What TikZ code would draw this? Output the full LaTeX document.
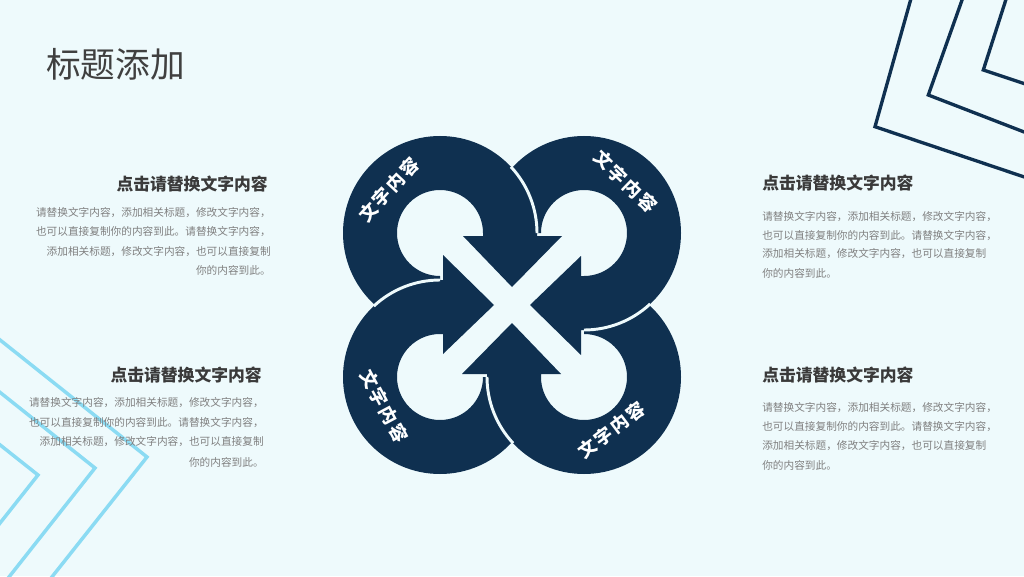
\documentclass[tikz,border=0pt]{standalone}
\usepackage{fontspec}
\setmainfont{Noto Sans CJK SC}
\definecolor{bg}{HTML}{EEFAFC}
\definecolor{navy}{HTML}{0F3050}
\definecolor{lblue}{HTML}{8BDBF3}
\definecolor{headc}{HTML}{3A3A3A}
\definecolor{bodyc}{HTML}{808080}
\definecolor{titlec}{HTML}{404040}
\newcommand\ringlabel{文\hspace{1.8pt}字\hspace{1.8pt}内\hspace{1.8pt}容}
\tikzset{
  bodytxt/.style={font=\fontsize{8}{10}\selectfont, text=bodyc, inner sep=0pt},
  headtxt/.style={font=\bfseries\fontsize{12.6}{14}\selectfont, text=headc, inner sep=0pt},
  ringtxt/.style={font=\bfseries\fontsize{13.5}{15}\selectfont, text=white, inner sep=0pt},
  sepline/.style={draw=bg, line width=2.2pt},
  navyline/.style={draw=navy, line width=2.5pt},
  blueline/.style={draw=lblue, line width=2.6pt}
}
\begin{document}
\begin{tikzpicture}[x=0.75pt,y=0.75pt]
\useasboundingbox (0,0) rectangle (1024,576);
\fill[bg] (0,0) rectangle (1024,576);
\begin{scope}
\clip (0,0) rectangle (1024,576);
% top-right navy chevrons
\draw[navyline] (913.4,586) -- (875,449.3) -- (1035,395.4);
\draw[navyline] (965.6,586) -- (928.3,481) -- (1035,439.8);
\draw[navyline] (1009,586) -- (983.3,506) -- (1035,488.8);
% bottom-left light blue chevrons
\draw[blueline] (-20,252) -- (147,119) -- (40,-16);
\draw[blueline] (-20,199.6) -- (95,108) -- (-6,-20);
\draw[blueline] (-20,147) -- (38,101) -- (-20,27.6);
\end{scope}
% four circular arrows
\foreach \ang in {0,-90,-180,-270}{
  \fill[navy, rotate around={\ang:(512,271)}]
    (440,246) arc[start angle=270, end angle=0, radius=97]
    -- (537,340) -- (562,340) -- (512,289) -- (463,340) -- (483,340) -- (483,343)
    arc[start angle=0, end angle=270, radius=43] -- cycle;
}
\foreach \ang in {0,-90,-180,-270}{
  \draw[sepline, rotate around={\ang:(512,271)}]
    (440,343) ++(43:97) arc[start angle=43, end angle=0, radius=97];
}
% ring labels
\node[ringtxt, rotate=47] (t1) at (389,386.5) {\ringlabel};
\node[ringtxt, rotate=-44] (t2) at (625.5,394.5) {\ringlabel};
\node[ringtxt, rotate=-62] (t3) at (384,170) {\ringlabel};
\node[ringtxt, rotate=37] (t4) at (611.5,146) {\ringlabel};
% title
\node[anchor=west, inner sep=0pt, text=titlec, font=\fontsize{26}{30}\selectfont] (title) at (46,512) {标题添加};
% left top block
\node[headtxt, anchor=east] (h1) at (268,392) {点击请替换文字内容};
\node[bodytxt, anchor=east] (a1) at (271,363.5) {请替换文字内容，添加相关标题，修改文字内容，};
\node[bodytxt, anchor=east] (a2) at (271,344) {也可以直接复制你的内容到此。请替换文字内容，};
\node[bodytxt, anchor=east] (a3) at (271,324.5) {添加相关标题，修改文字内容，也可以直接复制};
\node[bodytxt, anchor=east] (a4) at (271,305.5) {你的内容到此。};
% left bottom block
\node[headtxt, anchor=east] (h2) at (262,201) {点击请替换文字内容};
\node[bodytxt, anchor=east] (b1) at (264,173) {请替换文字内容，添加相关标题，修改文字内容，};
\node[bodytxt, anchor=east] (b2) at (264,153) {也可以直接复制你的内容到此。请替换文字内容，};
\node[bodytxt, anchor=east] (b3) at (264,134) {添加相关标题，修改文字内容，也可以直接复制};
\node[bodytxt, anchor=east] (b4) at (264,114) {你的内容到此。};
% right top block
\node[headtxt, anchor=west] (h3) at (762,393) {点击请替换文字内容};
\node[bodytxt, anchor=west] (c1) at (762,359) {请替换文字内容，添加相关标题，修改文字内容，};
\node[bodytxt, anchor=west] (c2) at (762,340.5) {也可以直接复制你的内容到此。请替换文字内容，};
\node[bodytxt, anchor=west] (c3) at (762,322) {添加相关标题，修改文字内容，也可以直接复制};
\node[bodytxt, anchor=west] (c4) at (762,303) {你的内容到此。};
% right bottom block
\node[headtxt, anchor=west] (h4) at (762,201) {点击请替换文字内容};
\node[bodytxt, anchor=west] (d1) at (762,168) {请替换文字内容，添加相关标题，修改文字内容，};
\node[bodytxt, anchor=west] (d2) at (762,149) {也可以直接复制你的内容到此。请替换文字内容，};
\node[bodytxt, anchor=west] (d3) at (762,130) {添加相关标题，修改文字内容，也可以直接复制};
\node[bodytxt, anchor=west] (d4) at (762,111) {你的内容到此。};
\end{tikzpicture}
\end{document}
